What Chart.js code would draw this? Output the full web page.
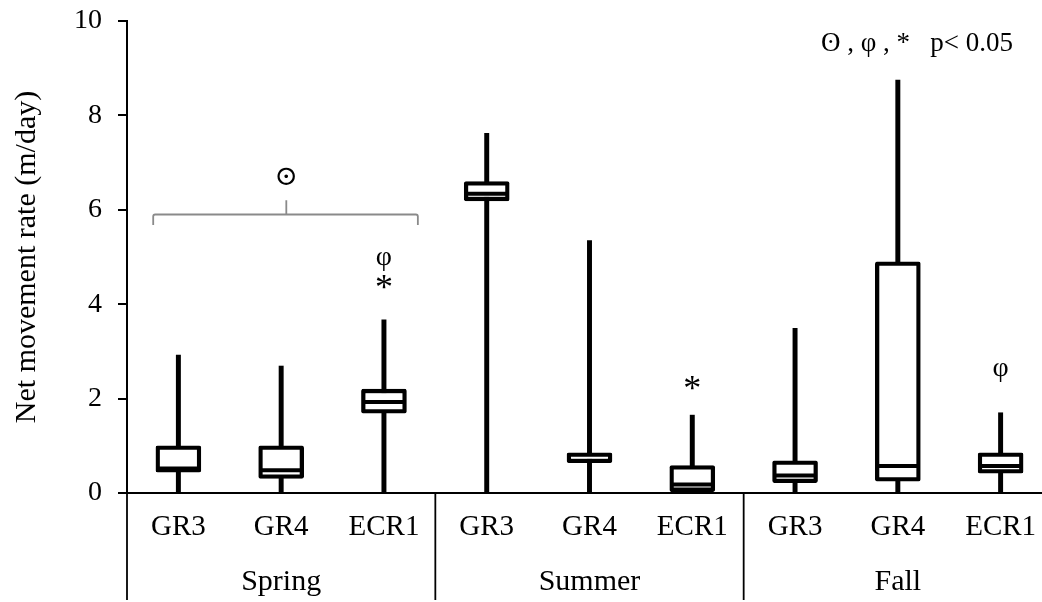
<!DOCTYPE html>
<html>
<head>
<meta charset="utf-8">
<script src="https://cdn.jsdelivr.net/npm/chart.js@4.4.1/dist/chart.umd.min.js"></script>
<style>
  html, body { margin: 0; padding: 0; background: #fff; overflow: hidden; }
  #wrap { width: 1060px; height: 602px; }
</style>
</head>
<body>
<div id="wrap"><canvas id="c" width="1060" height="602"></canvas></div>
<script>
// ---- data ----
const categories = ['GR3', 'GR4', 'ECR1', 'GR3', 'GR4', 'ECR1', 'GR3', 'GR4', 'ECR1'];
const seasons = ['Spring', 'Summer', 'Fall'];
const mins    = [0, 0, 0, 0, 0, 0, 0, 0, 0];
const q1      = [0.44, 0.31, 1.69, 6.19, 0.64, 0.03, 0.22, 0.25, 0.42];
const medians = [0.52, 0.48, 1.93, 6.34, 0.68, 0.18, 0.37, 0.57, 0.57];
const q3      = [1.00, 1.00, 2.20, 6.60, 0.85, 0.58, 0.68, 4.90, 0.85];
const maxs    = [2.92, 2.69, 3.67, 7.62, 5.35, 1.65, 3.49, 8.75, 1.70];
const yTicks  = [0, 2, 4, 6, 8, 10];
// significance marks: [category index, y value, text]
const marks = [
  [1.05, 6.69, '⊙'],
  [2, 4.98, 'φ'],
  [2, 4.30, '*'],
  [5, 2.17, '*'],
  [8, 2.63, 'φ']
];
const legendText = 'ʘ , φ , *   p< 0.05';

const SERIF = '"Liberation Serif", "Times New Roman", "DejaVu Serif", serif';

const boxPlugin = {
  id: 'boxExtras',
  afterDatasetsDraw(chart) {
    const ctx = chart.ctx;
    const ys = chart.scales.y;
    const meta = chart.getDatasetMeta(1);
    ctx.save();
    ctx.strokeStyle = '#000';
    ctx.lineWidth = 4;
    medians.forEach((m, i) => {
      const bar = meta.data[i];
      const half = bar.width / 2 - 2;
      const y = ys.getPixelForValue(m);
      ctx.beginPath();
      ctx.moveTo(bar.x - half, y);
      ctx.lineTo(bar.x + half, y);
      ctx.stroke();
    });
    ctx.restore();
  },
  afterDraw(chart) {
    const ctx = chart.ctx;
    const xs = chart.scales.x, ys = chart.scales.y;
    const area = chart.chartArea;
    ctx.save();
    // lines below axis: axis extension and season separators
    ctx.strokeStyle = '#000';
    ctx.lineWidth = 1.8;
    const yTop = area.bottom, yBot = xs.bottom - 2;
    [-0.5, 2.5, 5.5].forEach(v => {
      const x = v < 0 ? area.left : xs.getPixelForValue(v);
      ctx.beginPath();
      ctx.moveTo(x, yTop);
      ctx.lineTo(x, yBot);
      ctx.stroke();
    });
    // season labels
    ctx.fillStyle = '#000';
    ctx.font = '30px ' + SERIF;
    ctx.textAlign = 'center';
    ctx.textBaseline = 'alphabetic';
    seasons.forEach((s, g) => {
      ctx.fillText(s, xs.getPixelForValue(g * 3 + 1), xs.top + 97);
    });
    // bracket over spring
    ctx.strokeStyle = '#8a8a8a';
    ctx.lineWidth = 1.8;
    const bx0 = xs.getPixelForValue(-0.245), bx1 = xs.getPixelForValue(2.33);
    const bxm = xs.getPixelForValue(1.05);
    const by = ys.getPixelForValue(5.9), byEnd = ys.getPixelForValue(5.68), byTop = ys.getPixelForValue(6.2);
    ctx.beginPath();
    ctx.moveTo(bx0, byEnd);
    ctx.lineTo(bx0, by + 2);
    ctx.quadraticCurveTo(bx0, by, bx0 + 2, by);
    ctx.lineTo(bx1 - 2, by);
    ctx.quadraticCurveTo(bx1, by, bx1, by + 2);
    ctx.lineTo(bx1, byEnd);
    ctx.moveTo(bxm, by);
    ctx.lineTo(bxm, byTop);
    ctx.stroke();
    // marks
    ctx.fillStyle = '#000';
    ctx.textAlign = 'center';
    ctx.textBaseline = 'middle';
    marks.forEach(([c, v, t]) => {
      ctx.font = (t === '*' ? '36px ' : '28px ') + SERIF;
      ctx.fillText(t, xs.getPixelForValue(c), ys.getPixelForValue(v));
    });
    // significance legend
    ctx.font = '27px ' + SERIF;
    ctx.textAlign = 'right';
    ctx.fillText(legendText, xs.getPixelForValue(8.12), ys.getPixelForValue(9.52));
    ctx.restore();
  }
};

new Chart(document.getElementById('c'), {
  type: 'bar',
  data: {
    labels: categories,
    datasets: [
      {
        label: 'whisker',
        data: categories.map((_, i) => [mins[i], maxs[i]]),
        backgroundColor: '#000',
        borderWidth: 0,
        barThickness: 4.3,
        grouped: false,
        order: 2
      },
      {
        label: 'box',
        data: categories.map((_, i) => [q1[i], q3[i]]),
        backgroundColor: '#fff',
        borderColor: '#000',
        borderWidth: 4.3,
        borderSkipped: false,
        borderRadius: 2,
        barThickness: 45,
        grouped: false,
        order: 1
      }
    ]
  },
  options: {
    responsive: false,
    animation: false,
    devicePixelRatio: 1,
    layout: { padding: { top: 21, right: 8, left: 0, bottom: 0 } },
    plugins: { legend: { display: false }, tooltip: { enabled: false } },
    scales: {
      x: {
        type: 'category',
        offset: true,
        grid: { display: false, drawTicks: false },
        border: { display: true, color: '#000', width: 2 },
        ticks: { color: '#000', font: { family: SERIF, size: 29 }, padding: 17, maxRotation: 0, autoSkip: false },
        afterFit(scale) { scale.height = 109; scale.paddingLeft = 0; scale.paddingRight = 0; }
      },
      y: {
        min: 0,
        max: 10,
        afterBuildTicks(scale) { scale.ticks = yTicks.map(v => ({ value: v })); },
        grid: { drawOnChartArea: false, drawTicks: true, tickLength: 9, color: '#000', lineWidth: 2 },
        border: { display: true, color: '#000', width: 2 },
        ticks: { color: '#000', font: { family: SERIF, size: 28 }, padding: 16 },
        title: { display: true, text: 'Net movement rate (m/day)', color: '#000', font: { family: SERIF, size: 30 }, padding: { top: 9, bottom: 0 } },
        afterFit(scale) { scale.width = 127; scale.paddingTop = 0; scale.paddingBottom = 0; }
      }
    }
  },
  plugins: [boxPlugin]
});
</script>
</body>
</html>
